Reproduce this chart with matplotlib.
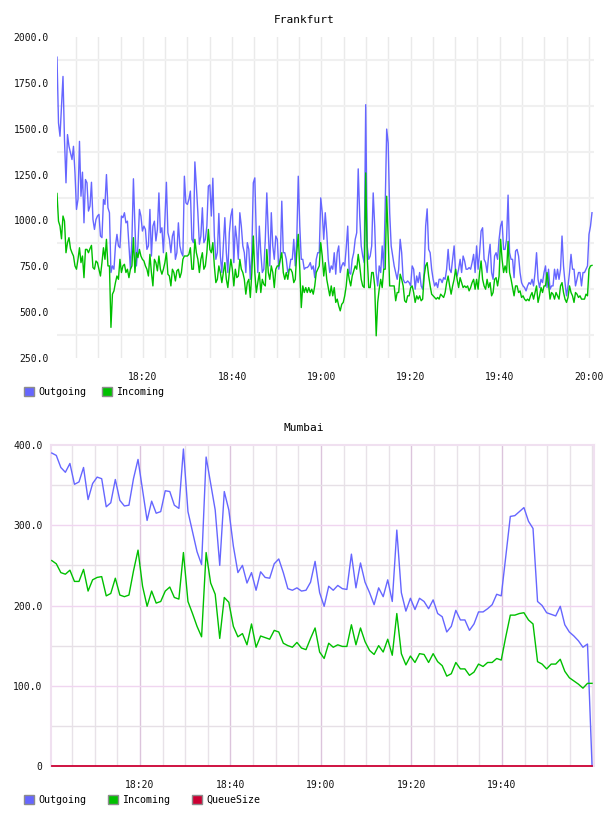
import matplotlib
matplotlib.use('Agg')
import matplotlib.pyplot as plt
from matplotlib.patches import Patch
import pandas as pd

plt.rcParams['font.family'] = ['DejaVu Sans Mono', 'DejaVu Sans']

DAY = '2020-01-01 '

# ---- Frankfurt (one sample roughly every 20 s) ----
fra_start, fra_end = '18:00:45', '20:00:40'
fra_out = [
    1890, 1531, 1459, 1622, 1785, 1440, 1205, 1468, 1404, 1368,
    1332, 1404, 1259, 1060, 1114, 1431, 1132, 1263, 987, 1223,
    1205, 1051, 1078, 1208, 1005, 951, 1005, 1024, 1033, 915,
    906, 1114, 1087, 1250, 1069, 1042, 716, 752, 734, 861,
    924, 861, 851, 1024, 1015, 1042, 987, 996, 861, 734,
    897, 1227, 969, 752, 861, 1060, 1024, 942, 969, 951,
    842, 861, 1060, 806, 969, 996, 888, 951, 1150, 933,
    960, 824, 1005, 1208, 933, 897, 824, 915, 942, 788,
    824, 987, 861, 824, 806, 1241, 1096, 1087, 1114, 1160,
    897,
    879, 1319, 1187, 1042, 870, 915, 1069, 879, 897, 969,
    1187, 1194, 1024, 1230, 915, 788, 824, 1038, 806, 716,
    861, 1015, 824, 716, 933, 1024, 1063, 770, 969, 897,
    788, 1042, 969, 861, 824, 716, 879, 842, 679, 824,
    1205, 1232, 915, 716, 969, 824, 716, 734, 897, 1150,
    933, 752, 1042, 861, 788, 915, 897, 734, 788, 1105,
    824, 824, 788, 716, 734, 788, 788, 897, 752, 897,
    1241, 969, 788, 788, 734, 743, 743, 752, 770, 734,
    752, 688, 788, 824, 824, 1123, 1042, 897, 1042, 933,
    788,
    716, 752, 734, 824, 707, 824, 861, 716, 752, 770,
    752, 851, 969, 716, 707, 788, 824, 897, 933, 1281,
    1024, 861, 806, 770, 1631, 861, 788, 806, 861, 1150,
    969, 716, 643, 752, 716, 861, 734, 1078, 1498, 1422,
    1042, 861, 806, 752, 716, 679, 734, 897, 824, 679,
    661, 661, 670, 661, 643, 752, 734, 625, 697, 661,
    716, 643, 625, 716, 969, 1063, 842, 824, 734, 679,
    643, 661, 634, 679, 679, 661, 688, 679, 734, 842,
    734, 716, 788, 861, 716, 697, 734, 788, 716, 806,
    779, 734, 734, 743, 734, 770, 815, 716, 861, 734,
    824, 942, 960, 788, 770, 716, 806, 870, 716, 679,
    806, 824, 788, 897, 969, 996, 842, 842, 897, 1138,
    824, 788, 788, 688, 833, 842, 806, 716, 661, 643,
    634, 616, 643, 661, 652, 679, 643, 716, 824, 679,
    634, 679, 661, 716, 752, 634, 734, 625, 643, 643,
    734, 679, 734, 679, 734, 915, 752, 661, 589, 643,
    716, 815, 734, 734, 643, 679, 716, 716, 643, 716,
    716, 734, 752, 924, 969, 1042,
]
fra_in = [
    1147, 996, 969, 900, 1024, 996, 824, 879, 906, 846,
    824, 806, 752, 734, 788, 851, 770, 806, 688, 842,
    842, 824, 846, 864, 743, 734, 779, 770, 734, 697,
    770, 851, 788, 897, 752, 752, 417, 598, 616, 661,
    697, 679, 788, 716, 752, 761, 716, 734, 688, 734,
    752, 906, 716, 824, 797, 842, 806, 788, 779, 752,
    734, 697, 815, 716, 643, 788, 770, 725, 806, 734,
    707, 734, 770, 824, 707, 697, 643, 734, 716, 670,
    725, 734, 688, 716, 788, 806, 806, 806, 815, 851,
    734,
    734, 897, 824, 788, 716, 788, 824, 734, 752, 824,
    951, 842, 824, 879, 752, 661, 679, 752, 716, 661,
    716, 770, 679, 634, 716, 788, 734, 643, 734, 688,
    697, 788, 734, 716, 679, 598, 661, 679, 580, 716,
    915, 716, 607, 661, 716, 607, 679, 652, 643, 842,
    716, 679, 752, 716, 634, 734, 752, 752, 788, 824,
    716, 679, 716, 679, 734, 734, 716, 661, 679, 824,
    924, 734, 525, 643, 607, 634, 607, 634, 607, 625,
    598, 643, 716, 734, 752, 879, 806, 697, 770, 679,
    634,
    589, 643, 589, 634, 553, 571, 534, 507, 543, 553,
    589, 643, 734, 679, 643, 697, 725, 752, 734, 815,
    752, 679, 643, 634, 1259, 806, 634, 634, 716, 716,
    643, 371, 553, 625, 679, 634, 734, 734, 1132, 897,
    643, 643, 643, 643, 562, 607, 607, 707, 679, 643,
    562, 553, 589, 589, 634, 643, 607, 553, 589, 571,
    589, 562, 571, 697, 752, 770, 697, 643, 598, 589,
    580, 571, 580, 571, 598, 589, 580, 607, 661, 697,
    643, 598, 643, 679, 734, 679, 634, 688, 661, 634,
    643, 634, 643, 616, 634, 661, 679, 625, 679, 625,
    716, 779, 679, 643, 625, 679, 634, 661, 589, 607,
    679, 688, 643, 697, 897, 788, 716, 752, 716, 886,
    716, 679, 634, 589, 643, 643, 607, 616, 580, 589,
    571, 562, 571, 562, 589, 607, 571, 607, 643, 553,
    589, 634, 607, 643, 643, 716, 652, 571, 607, 598,
    571, 607, 589, 571, 643, 661, 607, 571, 553, 580,
    643, 607, 589, 553, 607, 598, 580, 589, 571, 571,
    571, 598, 589, 734, 752, 755,
]
fra_yticks = [250, 500, 750, 1000, 1250, 1500, 1750, 2000]
fra_ylabels = ['250.0', '500.0', '750.0', '1000.0', '1250.0', '1500.0', '1750.0', '2000.0']
fra_grid_y = [375, 625, 875, 1125, 1375, 1625, 1875]
fra_xlabels = ['18:20', '18:40', '19:00', '19:20', '19:40', '20:00']

# ---- Mumbai (one sample per minute) ----
mum_start, mum_end = '18:00:30', '19:59:54'
mum_out = [
    390, 387, 372, 366, 377, 351, 354, 372, 332, 352,
    360, 358, 323, 328, 357, 331, 324, 325, 358, 382,
    344, 306, 330, 315, 317, 343, 342, 325, 321, 395,
    317, 292, 267, 251, 385, 352, 319, 250, 342, 319,
    274, 241, 250, 228, 241, 219, 242, 235, 234, 252,
    258, 241, 221, 219, 222, 218,
    219, 229, 255, 216, 199, 224, 219, 225, 221, 220,
    264, 222, 253, 229, 216, 201, 222, 211, 232, 205,
    294, 216, 193, 209, 195, 209, 205, 196, 207, 190,
    186, 167, 174, 194, 182, 182, 169, 177, 192, 192,
    196, 201, 214, 212, 261, 311, 312, 317, 322, 305,
    296, 205, 200, 191, 189, 187, 199, 176, 167, 162,
    156, 148, 152, 0,
]
mum_in = [
    256, 252, 241, 239, 244, 230, 230, 245, 218, 232,
    235, 236, 212, 215, 234, 213, 211, 213, 243, 269,
    224, 199, 218, 203, 205, 218, 223, 210, 208, 266,
    205, 190, 174, 161, 266, 228, 214, 159, 210, 204,
    174, 161, 165, 151, 177, 148, 162, 160, 158, 169,
    167, 153, 150, 148, 154, 147,
    145, 159, 172, 142, 134, 153, 148, 151, 149, 149,
    176, 151, 172, 155, 144, 139, 150, 142, 158, 138,
    190, 140, 126, 137, 129, 140, 139, 129, 140, 130,
    125, 112, 115, 129, 121, 121, 113, 117, 127, 124,
    129, 129, 134, 132, 161, 188, 188, 190, 191, 182,
    177, 130, 127, 121, 127, 127, 133, 118, 110, 106,
    102, 97, 103, 103,
]
mum_queue = [
    0, 0, 0, 0, 0, 0, 0, 0, 0, 0,
    0, 0, 0, 0, 0, 0, 0, 0, 0, 0,
    0, 0, 0, 0, 0, 0, 0, 0, 0, 0,
    0, 0, 0, 0, 0, 0, 0, 0, 0, 0,
    0, 0, 0, 0, 0, 0, 0, 0, 0, 0,
    0, 0, 0, 0, 0, 0,
    0, 0, 0, 0, 0, 0, 0, 0, 0, 0,
    0, 0, 0, 0, 0, 0, 0, 0, 0, 0,
    0, 0, 0, 0, 0, 0, 0, 0, 0, 0,
    0, 0, 0, 0, 0, 0, 0, 0, 0, 0,
    0, 0, 0, 0, 0, 0, 0, 0, 0, 0,
    0, 0, 0, 0, 0, 0, 0, 0, 0, 0,
    0, 0, 0, 0,
]
mum_yticks = [0, 100, 200, 300, 400]
mum_ylabels = ['0', '100.0', '200.0', '300.0', '400.0']
mum_grid_y = [50, 150, 250, 350]
mum_xlabels = ['18:20', '18:40', '19:00', '19:20', '19:40']

C_OUT, C_IN, C_Q = '#6666ff', '#00c000', '#cc0033'


def times(start, end, n):
    return pd.date_range(DAY + start, DAY + end, periods=n)


def five_min(t0, t1):
    return pd.date_range(t0.ceil('5min'), t1.floor('5min'), freq='5min')


fig = plt.figure(figsize=(6.08, 8.16), dpi=100)

# ---------------- Frankfurt ----------------
ax1 = fig.add_axes([57/608, 1-358/816, 537/608, 321/816])
t_out = times(fra_start, fra_end, len(fra_out))
t_in = times(fra_start, fra_end, len(fra_in))
ax1.plot(t_out, fra_out, color=C_OUT, lw=1.0, zorder=3)
ax1.plot(t_in, fra_in, color=C_IN, lw=1.0, zorder=4)
x0, x1 = pd.Timestamp(DAY + '18:00:45'), pd.Timestamp(DAY + '20:01:07')
ax1.set_xlim(x0, x1)
ax1.set_ylim(250, 2000)
ax1.set_yticks(fra_yticks, fra_ylabels)
ax1.set_xticks([pd.Timestamp(DAY + s) for s in fra_xlabels], fra_xlabels)
for t in five_min(x0, x1):
    ax1.axvline(t, color='#eaeaea', lw=1.0, zorder=1)
for y in fra_grid_y:
    ax1.axhline(y, color='#f0f0f0', lw=1.5, zorder=1)
for s in ax1.spines.values():
    s.set_visible(False)
ax1.tick_params(length=0, labelsize=7, colors='#111111')
ax1.tick_params(axis='y', pad=6)
ax1.tick_params(axis='x', pad=10)
fig.text(0.5, 1-20/816, 'Frankfurt', ha='center', va='center', fontsize=8)

fig.legend(handles=[Patch(facecolor=C_OUT, edgecolor='#8c8c8c'),
                    Patch(facecolor=C_IN, edgecolor='#8c8c8c')],
           labels=['Outgoing', 'Incoming'],
           loc='center left', bbox_to_anchor=(24/608, 1-392/816), ncol=2,
           frameon=False, fontsize=7.2, handlelength=1.0, handleheight=1.0,
           handletextpad=0.4, columnspacing=1.6, borderpad=0, borderaxespad=0)

# ---------------- Mumbai ----------------
ax2 = fig.add_axes([51/608, 1-766/816, 543/608, 321/816])
tm = times(mum_start, mum_end, len(mum_out))
ax2.plot(tm, mum_out, color=C_OUT, lw=1.0, zorder=3, clip_on=False)
ax2.plot(times(mum_start, mum_end, len(mum_in)), mum_in, color=C_IN, lw=1.0, zorder=4)
ax2.plot(times(mum_start, mum_end, len(mum_queue)), mum_queue, color=C_Q, lw=1.3,
         zorder=5, clip_on=False)
m0, m1 = pd.Timestamp(DAY + '18:00:20'), pd.Timestamp(DAY + '20:00:20')
ax2.set_xlim(m0, m1)
ax2.set_ylim(0, 400)
ax2.set_yticks(mum_yticks, mum_ylabels)
major_t = [pd.Timestamp(DAY + s) for s in mum_xlabels]
ax2.set_xticks(major_t, mum_xlabels)
for t in five_min(m0, m1):
    if t in major_t:
        ax2.axvline(t, color='#dcc4dc', lw=1.0, zorder=1)
    else:
        ax2.axvline(t, color='#e8e2e8', lw=1.0, zorder=1)
for y in mum_grid_y:
    ax2.axhline(y, color='#e6e0e6', lw=1.0, zorder=1)
for y in mum_yticks[1:-1]:
    ax2.axhline(y, color='#f0d6f0', lw=1.0, zorder=1)
for k, s in ax2.spines.items():
    s.set_color('#f0e0f0')
    s.set_linewidth(1.5)
ax2.spines['bottom'].set_visible(False)
ax2.tick_params(length=0, labelsize=7, colors='#111111')
ax2.tick_params(axis='y', pad=6)
ax2.tick_params(axis='x', pad=10)
fig.text(0.5, 1-428/816, 'Mumbai', ha='center', va='center', fontsize=8)

fig.legend(handles=[Patch(facecolor=C_OUT, edgecolor='#8c8c8c'),
                    Patch(facecolor=C_IN, edgecolor='#8c8c8c'),
                    Patch(facecolor=C_Q, edgecolor='#8c8c8c')],
           labels=['Outgoing', 'Incoming', 'QueueSize'],
           loc='center left', bbox_to_anchor=(24/608, 1-800/816), ncol=3,
           frameon=False, fontsize=7.2, handlelength=1.0, handleheight=1.0,
           handletextpad=0.4, columnspacing=2.2, borderpad=0, borderaxespad=0)

fig.savefig('out.png', dpi=100)
